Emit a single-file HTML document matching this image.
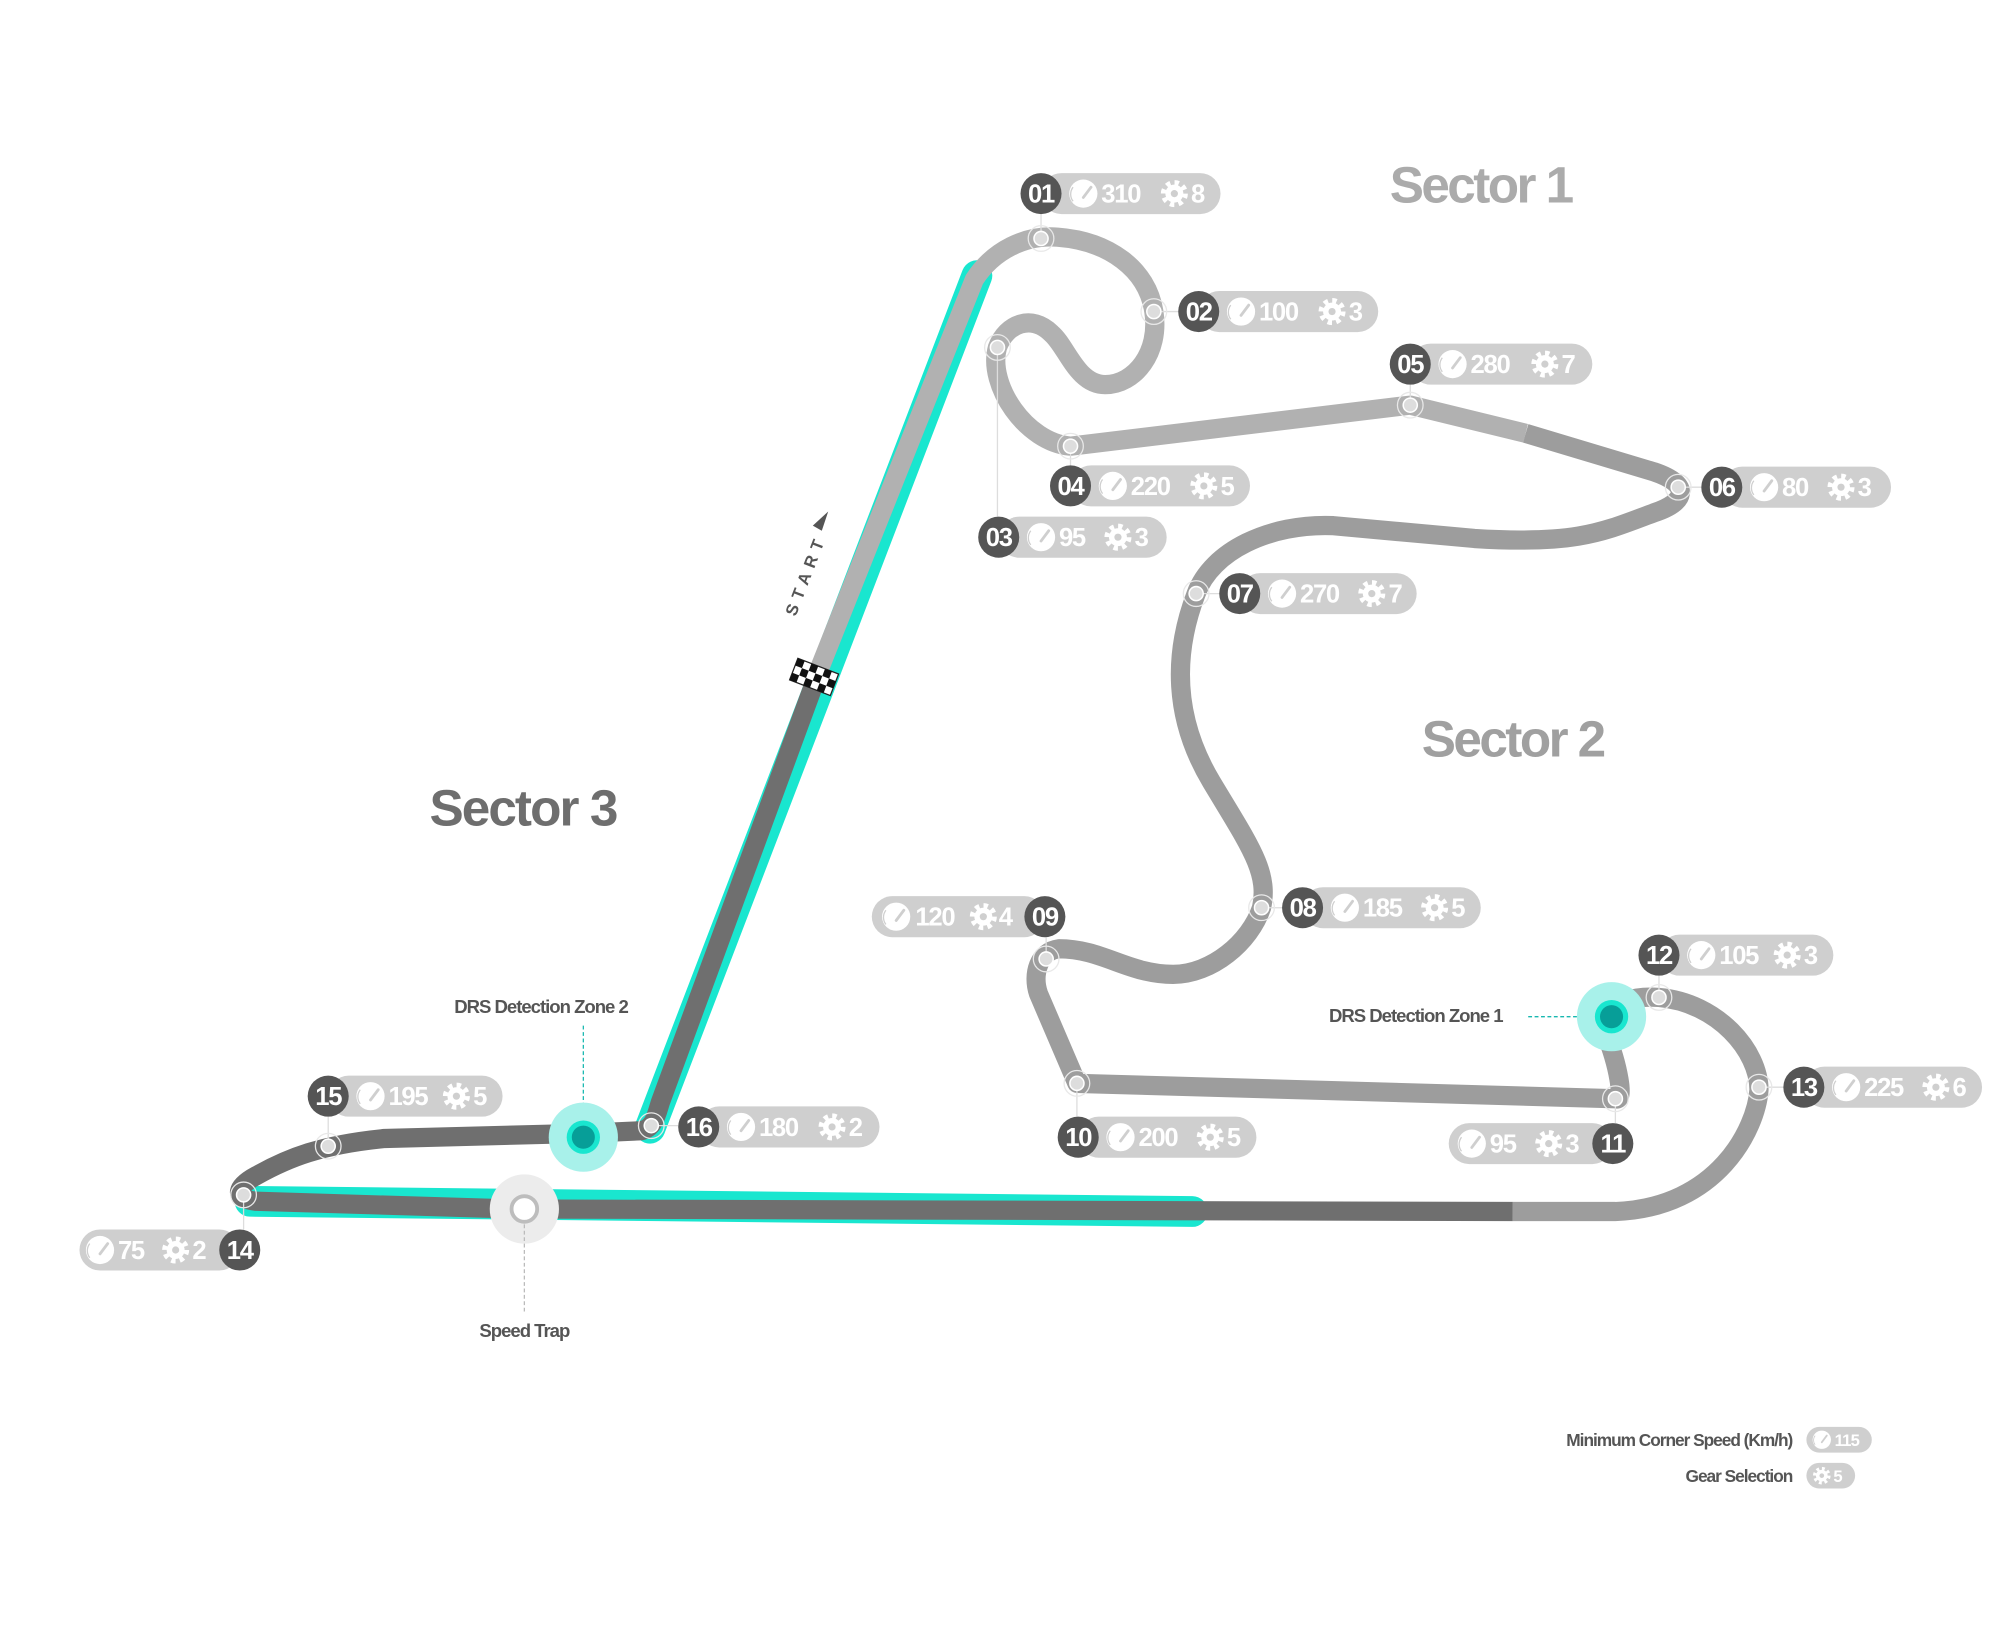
<!DOCTYPE html>
<html><head><meta charset="utf-8"><style>
html,body{margin:0;padding:0;background:#fff;}
svg{display:block;}
text{font-family:"Liberation Sans",sans-serif;font-weight:bold;}
.n{fill:#fff;font-size:20px;letter-spacing:-1px;}
.v{fill:#fff;font-size:20px;letter-spacing:-1px;}
</style></head><body>
<svg width="2000" height="1629" viewBox="0 0 1560 1270.6" xmlns="http://www.w3.org/2000/svg">
<defs>
<g id="spd"><circle r="11" fill="#fff"/><path d="M0 3 L6 -5" stroke="#cfcfcf" stroke-width="2.2" stroke-linecap="round"/><path d="M-8 6 A9 9 0 0 1 -8 -5" stroke="#cfcfcf" stroke-width="1" fill="none"/></g>
<g id="gear"><circle r="8.3" fill="none" stroke="#fff" stroke-width="4.5" stroke-dasharray="3.3 3.2"/><circle r="7" fill="#fff"/><circle r="2.8" fill="#cfcfcf"/></g>
</defs>
<rect width="1560" height="1271" fill="#fff"/>

<text x="1084" y="158" font-size="40" fill="#ababab" letter-spacing="-2">Sector 1</text>
<text x="1109" y="590" font-size="40" fill="#a0a0a0" letter-spacing="-2">Sector 2</text>
<text x="335" y="644" font-size="40" fill="#6e6e6e" letter-spacing="-1.5">Sector 3</text>

<path d="M507 880 L762 215" stroke="#19e6cf" stroke-width="24" stroke-linecap="round" fill="none"/>
<path d="M195 937 L930 945" stroke="#19e6cf" stroke-width="24" stroke-linecap="round" fill="none"/>

<g fill="none" stroke-width="15" stroke-linejoin="round">
<path d="M1180 945 L400 943 L200 937 C180 935,185 925,200 917 C225 903,250 893,300 888 L455 884 L500 882 C510 880,512 870,515 860 L637 528" stroke="#6f6f6f"/>
<path d="M1190 338 L1290 368 C1320 378,1315 392,1290 400 C1250 415,1230 425,1150 420 L1040 410 C990 408,945 430,933 463 C915 510,915 560,945 610 C975 660,990 680,984 708 C975 735,945 760,915 760 C880 760,860 740,826 740 C810 742,805 760,810 775 L840 845 L1260 857 C1268 860,1262 830,1252 805 C1248 785,1270 776,1294 778 C1340 782,1372 820,1372 850 C1370 880,1340 942,1260 945 L1180 945" stroke="#9d9d9d"/>
<path d="M635 532 L760 218 C775 195,800 183,825 185 C865 188,895 210,900 243 C905 275,885 300,862 300 C840 300,832 270,820 260 C805 245,785 252,778 271 C770 300,800 345,835 348 L1100 316 L1190 338" stroke="#b1b1b1"/>
</g>

<g transform="translate(635,528) rotate(21)">
<rect x="-17" y="-9" width="34" height="18" fill="#fff" stroke="#222" stroke-width="1"/>
<g fill="#111">
<rect x="-17" y="-9" width="5.7" height="6"/><rect x="-5.7" y="-9" width="5.7" height="6"/><rect x="5.7" y="-9" width="5.7" height="6"/>
<rect x="-11.3" y="-3" width="5.7" height="6"/><rect x="0" y="-3" width="5.7" height="6"/><rect x="11.3" y="-3" width="5.7" height="6"/>
<rect x="-17" y="3" width="5.7" height="6"/><rect x="-5.7" y="3" width="5.7" height="6"/><rect x="5.7" y="3" width="5.7" height="6"/>
</g></g>

<g transform="translate(628,448) rotate(-69)">
<text x="0" y="5" font-size="13" fill="#555" letter-spacing="5" text-anchor="middle">START</text>
</g>
<path d="M646 399 L641 414 L634 410 Z" fill="#555"/>

<g stroke="#ddd" stroke-width="1">
<line x1="812" y1="167" x2="812" y2="186"/><line x1="900" y1="243" x2="919" y2="243"/>
<line x1="778" y1="271" x2="778" y2="403"/><line x1="835" y1="348" x2="835" y2="363"/>
<line x1="1100" y1="300" x2="1100" y2="316"/><line x1="1309" y1="380" x2="1327" y2="380"/>
<line x1="933" y1="463" x2="951" y2="463"/><line x1="984" y1="708" x2="1000" y2="708"/>
<line x1="816" y1="731" x2="816" y2="748"/><line x1="840" y1="845" x2="840" y2="871"/>
<line x1="1260" y1="857" x2="1260" y2="876"/><line x1="1294" y1="761" x2="1294" y2="778"/>
<line x1="1372" y1="848" x2="1391" y2="848"/><line x1="190" y1="932" x2="190" y2="959"/>
<line x1="256" y1="871" x2="256" y2="894"/><line x1="508" y1="878" x2="529" y2="878"/>
</g>

<g>
<g fill="#ddd" stroke="#fff" stroke-width="1.2">
<circle cx="812" cy="186" r="5.5"/><circle cx="900" cy="243" r="5.5"/><circle cx="778" cy="271" r="5.5"/><circle cx="835" cy="348" r="5.5"/>
<circle cx="1100" cy="316" r="5.5"/><circle cx="1309" cy="380" r="5.5"/><circle cx="933" cy="463" r="5.5"/><circle cx="984" cy="708" r="5.5"/>
<circle cx="816" cy="748" r="5.5"/><circle cx="840" cy="845" r="5.5"/><circle cx="1260" cy="857" r="5.5"/><circle cx="1294" cy="778" r="5.5"/>
<circle cx="1372" cy="848" r="5.5"/><circle cx="190" cy="932" r="5.5"/><circle cx="256" cy="894" r="5.5"/><circle cx="508" cy="878" r="5.5"/>
</g>
<g fill="none" stroke="#e8e8e8" stroke-width="1">
<circle cx="812" cy="186" r="10"/><circle cx="900" cy="243" r="10"/><circle cx="778" cy="271" r="10"/><circle cx="835" cy="348" r="10"/>
<circle cx="1100" cy="316" r="10"/><circle cx="1309" cy="380" r="10"/><circle cx="933" cy="463" r="10"/><circle cx="984" cy="708" r="10"/>
<circle cx="816" cy="748" r="10"/><circle cx="840" cy="845" r="10"/><circle cx="1260" cy="857" r="10"/><circle cx="1294" cy="778" r="10"/>
<circle cx="1372" cy="848" r="10"/><circle cx="190" cy="932" r="10"/><circle cx="256" cy="894" r="10"/><circle cx="508" cy="878" r="10"/>
</g></g>

<text x="422" y="790" font-size="14.5" fill="#555" letter-spacing="-0.8" text-anchor="middle">DRS Detection Zone 2</text>
<line x1="455" y1="800" x2="455" y2="875" stroke="#19b8b0" stroke-width="1" stroke-dasharray="3 2"/>
<circle cx="455" cy="887" r="27" fill="#a8f1ea"/>
<circle cx="455" cy="887" r="13" fill="#19e6cf"/>
<circle cx="455" cy="887" r="9" fill="#079e98"/>

<text x="1172" y="797" font-size="14.5" fill="#555" letter-spacing="-0.8" text-anchor="end">DRS Detection Zone 1</text>
<line x1="1192" y1="793" x2="1245" y2="793" stroke="#19b8b0" stroke-width="1" stroke-dasharray="3 2"/>
<circle cx="1257" cy="793" r="27" fill="#a8f1ea"/>
<circle cx="1257" cy="793" r="13" fill="#19e6cf"/>
<circle cx="1257" cy="793" r="9" fill="#079e98"/>

<circle cx="409" cy="943" r="27" fill="#ececec"/>
<line x1="409" y1="955" x2="409" y2="1025" stroke="#bbb" stroke-width="1" stroke-dasharray="3 2"/>
<circle cx="409" cy="943" r="10" fill="#fff" stroke="#bdbdbd" stroke-width="3"/>
<text x="409" y="1043" font-size="14.5" fill="#555" letter-spacing="-0.8" text-anchor="middle">Speed Trap</text>

<g transform="translate(812,151)"><rect x="0" y="-16" width="140" height="32" rx="16" fill="#cfcfcf"/><circle r="16" fill="#555"/><text class="n" x="0" y="7" text-anchor="middle">01</text><use href="#spd" x="33"/><text class="v" x="47" y="7">310</text><use href="#gear" x="104"/><text class="v" x="117" y="7">8</text></g>
<g transform="translate(935,243)"><rect x="0" y="-16" width="140" height="32" rx="16" fill="#cfcfcf"/><circle r="16" fill="#555"/><text class="n" x="0" y="7" text-anchor="middle">02</text><use href="#spd" x="33"/><text class="v" x="47" y="7">100</text><use href="#gear" x="104"/><text class="v" x="117" y="7">3</text></g>
<g transform="translate(779,419)"><rect x="0" y="-16" width="131" height="32" rx="16" fill="#cfcfcf"/><circle r="16" fill="#555"/><text class="n" x="0" y="7" text-anchor="middle">03</text><use href="#spd" x="33"/><text class="v" x="47" y="7">95</text><use href="#gear" x="93"/><text class="v" x="106" y="7">3</text></g>
<g transform="translate(835,379)"><rect x="0" y="-16" width="140" height="32" rx="16" fill="#cfcfcf"/><circle r="16" fill="#555"/><text class="n" x="0" y="7" text-anchor="middle">04</text><use href="#spd" x="33"/><text class="v" x="47" y="7">220</text><use href="#gear" x="104"/><text class="v" x="117" y="7">5</text></g>
<g transform="translate(1100,284)"><rect x="0" y="-16" width="142" height="32" rx="16" fill="#cfcfcf"/><circle r="16" fill="#555"/><text class="n" x="0" y="7" text-anchor="middle">05</text><use href="#spd" x="33"/><text class="v" x="47" y="7">280</text><use href="#gear" x="105"/><text class="v" x="118" y="7">7</text></g>
<g transform="translate(1343,380)"><rect x="0" y="-16" width="132" height="32" rx="16" fill="#cfcfcf"/><circle r="16" fill="#555"/><text class="n" x="0" y="7" text-anchor="middle">06</text><use href="#spd" x="33"/><text class="v" x="47" y="7">80</text><use href="#gear" x="93"/><text class="v" x="106" y="7">3</text></g>
<g transform="translate(967,463)"><rect x="0" y="-16" width="138" height="32" rx="16" fill="#cfcfcf"/><circle r="16" fill="#555"/><text class="n" x="0" y="7" text-anchor="middle">07</text><use href="#spd" x="33"/><text class="v" x="47" y="7">270</text><use href="#gear" x="103"/><text class="v" x="116" y="7">7</text></g>
<g transform="translate(1016,708)"><rect x="0" y="-16" width="139" height="32" rx="16" fill="#cfcfcf"/><circle r="16" fill="#555"/><text class="n" x="0" y="7" text-anchor="middle">08</text><use href="#spd" x="33"/><text class="v" x="47" y="7">185</text><use href="#gear" x="103"/><text class="v" x="116" y="7">5</text></g>
<g transform="translate(841,887)"><rect x="0" y="-16" width="139" height="32" rx="16" fill="#cfcfcf"/><circle r="16" fill="#555"/><text class="n" x="0" y="7" text-anchor="middle">10</text><use href="#spd" x="33"/><text class="v" x="47" y="7">200</text><use href="#gear" x="103"/><text class="v" x="116" y="7">5</text></g>
<g transform="translate(1294,745)"><rect x="0" y="-16" width="136" height="32" rx="16" fill="#cfcfcf"/><circle r="16" fill="#555"/><text class="n" x="0" y="7" text-anchor="middle">12</text><use href="#spd" x="33"/><text class="v" x="47" y="7">105</text><use href="#gear" x="100"/><text class="v" x="113" y="7">3</text></g>
<g transform="translate(1407,848)"><rect x="0" y="-16" width="139" height="32" rx="16" fill="#cfcfcf"/><circle r="16" fill="#555"/><text class="n" x="0" y="7" text-anchor="middle">13</text><use href="#spd" x="33"/><text class="v" x="47" y="7">225</text><use href="#gear" x="103"/><text class="v" x="116" y="7">6</text></g>
<g transform="translate(256,855)"><rect x="0" y="-16" width="136" height="32" rx="16" fill="#cfcfcf"/><circle r="16" fill="#555"/><text class="n" x="0" y="7" text-anchor="middle">15</text><use href="#spd" x="33"/><text class="v" x="47" y="7">195</text><use href="#gear" x="100"/><text class="v" x="113" y="7">5</text></g>
<g transform="translate(545,879)"><rect x="0" y="-16" width="141" height="32" rx="16" fill="#cfcfcf"/><circle r="16" fill="#555"/><text class="n" x="0" y="7" text-anchor="middle">16</text><use href="#spd" x="33"/><text class="v" x="47" y="7">180</text><use href="#gear" x="104"/><text class="v" x="117" y="7">2</text></g>

<g transform="translate(815,715)"><rect x="-135" y="-16" width="135" height="32" rx="16" fill="#cfcfcf"/><circle r="16" fill="#555"/><text class="n" x="0" y="7" text-anchor="middle">09</text><use href="#spd" x="-116"/><text class="v" x="-101" y="7">120</text><use href="#gear" x="-48"/><text class="v" x="-36" y="7">4</text></g>
<g transform="translate(1258,892)"><rect x="-128" y="-16" width="128" height="32" rx="16" fill="#cfcfcf"/><circle r="16" fill="#555"/><text class="n" x="0" y="7" text-anchor="middle">11</text><use href="#spd" x="-110"/><text class="v" x="-96" y="7">95</text><use href="#gear" x="-50"/><text class="v" x="-37" y="7">3</text></g>
<g transform="translate(187,975)"><rect x="-125" y="-16" width="125" height="32" rx="16" fill="#cfcfcf"/><circle r="16" fill="#555"/><text class="n" x="0" y="7" text-anchor="middle">14</text><use href="#spd" x="-109"/><text class="v" x="-95" y="7">75</text><use href="#gear" x="-50"/><text class="v" x="-37" y="7">2</text></g>

<text x="1398" y="1128" font-size="13.5" fill="#555" letter-spacing="-0.8" text-anchor="end">Minimum Corner Speed (Km/h)</text>
<rect x="1409" y="1113" width="51" height="20" rx="10" fill="#cfcfcf"/>
<g transform="translate(1421,1123) scale(0.65)"><use href="#spd"/></g>
<text x="1431" y="1128" font-size="13" fill="#fff" letter-spacing="-0.6">115</text>
<text x="1398" y="1156" font-size="13.5" fill="#555" letter-spacing="-0.8" text-anchor="end">Gear Selection</text>
<rect x="1409" y="1141" width="38" height="20" rx="10" fill="#cfcfcf"/>
<g transform="translate(1421,1151) scale(0.65)"><use href="#gear"/></g>
<text x="1430" y="1156" font-size="13" fill="#fff">5</text>
</svg>
</body></html>
